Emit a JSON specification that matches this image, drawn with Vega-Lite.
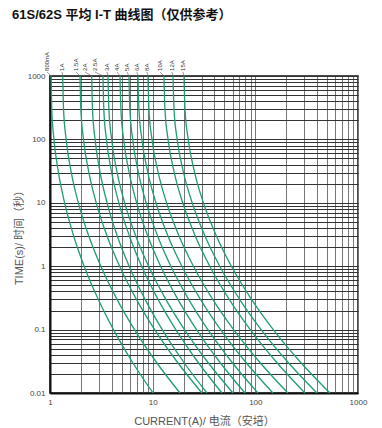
{
  "$schema": "https://vega.github.io/schema/vega-lite/v6.json",
  "width": 308,
  "height": 317,
  "autosize": "none",
  "padding": {"left": 50, "top": 76, "right": 24, "bottom": 35},
  "background": "white",
  "title": {"text": "61S/62S 平均 I-T 曲线图（仅供参考）", "anchor": "start", "frame": "group", "dx": -38, "offset": 30, "fontSize": 13, "fontWeight": "bold", "color": "#111", "font": "Liberation Sans, Noto Sans CJK SC"},
  "config": {"view": {"stroke": "#111", "strokeWidth": 1.5}, "font": "Liberation Sans, Noto Sans CJK SC"},
  "datasets": {
    "curves": [
      {"c":"800mA","t":1000,"i":1.023},{"c":"800mA","t":300,"i":1.040},{"c":"800mA","t":100,"i":1.093},{"c":"800mA","t":30,"i":1.209},{"c":"800mA","t":10,"i":1.388},{"c":"800mA","t":3,"i":1.700},{"c":"800mA","t":1,"i":2.152},{"c":"800mA","t":0.3,"i":2.949},{"c":"800mA","t":0.1,"i":4.148},{"c":"800mA","t":0.03,"i":6.405},{"c":"800mA","t":0.01,"i":10.07},
      {"c":"1A","t":1000,"i":1.330},{"c":"1A","t":300,"i":1.355},{"c":"1A","t":100,"i":1.436},{"c":"1A","t":30,"i":1.613},{"c":"1A","t":10,"i":1.888},{"c":"1A","t":3,"i":2.386},{"c":"1A","t":1,"i":3.128},{"c":"1A","t":0.3,"i":4.494},{"c":"1A","t":0.1,"i":6.653},{"c":"1A","t":0.03,"i":10.96},{"c":"1A","t":0.01,"i":18.45},
      {"c":"1.5A","t":1000,"i":1.959},{"c":"1.5A","t":300,"i":1.997},{"c":"1.5A","t":100,"i":2.120},{"c":"1.5A","t":30,"i":2.393},{"c":"1.5A","t":10,"i":2.819},{"c":"1.5A","t":3,"i":3.596},{"c":"1.5A","t":1,"i":4.766},{"c":"1.5A","t":0.3,"i":6.950},{"c":"1.5A","t":0.1,"i":10.45},{"c":"1.5A","t":0.03,"i":17.57},{"c":"1.5A","t":0.01,"i":30.20},
      {"c":"2A","t":1000,"i":2.547},{"c":"2A","t":300,"i":2.593},{"c":"2A","t":100,"i":2.746},{"c":"2A","t":30,"i":3.077},{"c":"2A","t":10,"i":3.594},{"c":"2A","t":3,"i":4.523},{"c":"2A","t":1,"i":5.902},{"c":"2A","t":0.3,"i":8.431},{"c":"2A","t":0.1,"i":12.40},{"c":"2A","t":0.03,"i":20.26},{"c":"2A","t":0.01,"i":33.81},
      {"c":"2.5A","t":1000,"i":3.281},{"c":"2.5A","t":300,"i":3.343},{"c":"2.5A","t":100,"i":3.545},{"c":"2.5A","t":30,"i":3.989},{"c":"2.5A","t":10,"i":4.682},{"c":"2.5A","t":3,"i":5.934},{"c":"2.5A","t":1,"i":7.809},{"c":"2.5A","t":0.3,"i":11.28},{"c":"2.5A","t":0.1,"i":16.80},{"c":"2.5A","t":0.03,"i":27.90},{"c":"2.5A","t":0.01,"i":47.32},
      {"c":"3A","t":1000,"i":3.673},{"c":"3A","t":300,"i":3.746},{"c":"3A","t":100,"i":3.984},{"c":"3A","t":30,"i":4.508},{"c":"3A","t":10,"i":5.335},{"c":"3A","t":3,"i":6.842},{"c":"3A","t":1,"i":9.134},{"c":"3A","t":0.3,"i":13.44},{"c":"3A","t":0.1,"i":20.41},{"c":"3A","t":0.03,"i":34.76},{"c":"3A","t":0.01,"i":60.53},
      {"c":"4A","t":1000,"i":4.808},{"c":"4A","t":300,"i":4.903},{"c":"4A","t":100,"i":5.215},{"c":"4A","t":30,"i":5.902},{"c":"4A","t":10,"i":6.984},{"c":"4A","t":3,"i":8.958},{"c":"4A","t":1,"i":11.96},{"c":"4A","t":0.3,"i":17.60},{"c":"4A","t":0.1,"i":26.73},{"c":"4A","t":0.03,"i":45.51},{"c":"4A","t":0.01,"i":79.25},
      {"c":"5A","t":1000,"i":5.875},{"c":"5A","t":300,"i":5.995},{"c":"5A","t":100,"i":6.388},{"c":"5A","t":30,"i":7.260},{"c":"5A","t":10,"i":8.636},{"c":"5A","t":3,"i":11.17},{"c":"5A","t":1,"i":15.04},{"c":"5A","t":0.3,"i":22.41},{"c":"5A","t":0.1,"i":34.50},{"c":"5A","t":0.03,"i":59.76},{"c":"5A","t":0.01,"i":105.9},
      {"c":"6A","t":1000,"i":7.194},{"c":"6A","t":300,"i":7.348},{"c":"6A","t":100,"i":7.855},{"c":"6A","t":30,"i":8.977},{"c":"6A","t":10,"i":10.76},{"c":"6A","t":3,"i":14.09},{"c":"6A","t":1,"i":19.24},{"c":"6A","t":0.3,"i":29.20},{"c":"6A","t":0.1,"i":45.84},{"c":"6A","t":0.03,"i":81.45},{"c":"6A","t":0.01,"i":148.3},
      {"c":"8A","t":1000,"i":8.995},{"c":"8A","t":300,"i":9.194},{"c":"8A","t":100,"i":9.851},{"c":"8A","t":30,"i":11.32},{"c":"8A","t":10,"i":13.66},{"c":"8A","t":3,"i":18.06},{"c":"8A","t":1,"i":24.95},{"c":"8A","t":0.3,"i":38.46},{"c":"8A","t":0.1,"i":61.42},{"c":"8A","t":0.03,"i":111.5},{"c":"8A","t":0.01,"i":207.5},
      {"c":"10A","t":1000,"i":12.88},{"c":"10A","t":300,"i":13.17},{"c":"10A","t":100,"i":14.12},{"c":"10A","t":30,"i":16.23},{"c":"10A","t":10,"i":19.63},{"c":"10A","t":3,"i":25.99},{"c":"10A","t":1,"i":35.99},{"c":"10A","t":0.3,"i":55.67},{"c":"10A","t":0.1,"i":89.20},{"c":"10A","t":0.03,"i":162.6},{"c":"10A","t":0.01,"i":304.1},
      {"c":"12A","t":1000,"i":15.78},{"c":"12A","t":300,"i":16.14},{"c":"12A","t":100,"i":17.32},{"c":"12A","t":30,"i":19.98},{"c":"12A","t":10,"i":24.25},{"c":"12A","t":3,"i":32.31},{"c":"12A","t":1,"i":45.06},{"c":"12A","t":0.3,"i":70.31},{"c":"12A","t":0.1,"i":113.8},{"c":"12A","t":0.03,"i":210.1},{"c":"12A","t":0.01,"i":398.1},
      {"c":"15A","t":1000,"i":20.18},{"c":"15A","t":300,"i":20.65},{"c":"15A","t":100,"i":22.19},{"c":"15A","t":30,"i":25.64},{"c":"15A","t":10,"i":31.21},{"c":"15A","t":3,"i":41.73},{"c":"15A","t":1,"i":58.48},{"c":"15A","t":0.3,"i":91.80},{"c":"15A","t":0.1,"i":149.5},{"c":"15A","t":0.03,"i":278.3},{"c":"15A","t":0.01,"i":532.1}
    ],
    "labels": [
      {"label":"800mA","lx":0.935,"i":1.023,"ly":1160,"ty":1000},
      {"label":"1A","lx":1.309,"i":1.330,"ly":1160,"ty":1000},
      {"label":"1.5A","lx":1.79,"i":1.959,"ly":1160,"ty":1000},
      {"label":"2A","lx":2.19,"i":2.547,"ly":1160,"ty":1000},
      {"label":"2.5A","lx":2.74,"i":3.281,"ly":1160,"ty":1000},
      {"label":"3A","lx":3.59,"i":3.673,"ly":1160,"ty":1000},
      {"label":"4A","lx":4.49,"i":4.808,"ly":1160,"ty":1000},
      {"label":"5A","lx":5.62,"i":5.875,"ly":1160,"ty":1000},
      {"label":"6A","lx":7.03,"i":7.194,"ly":1160,"ty":1000},
      {"label":"8A","lx":8.80,"i":8.995,"ly":1160,"ty":1000},
      {"label":"10A","lx":11.78,"i":12.88,"ly":1160,"ty":1000},
      {"label":"12A","lx":15.4,"i":15.78,"ly":1160,"ty":1000},
      {"label":"15A","lx":19.7,"i":20.18,"ly":1160,"ty":1000}
    ]
  },
  "layer": [
    {
      "data": {"name": "curves"},
      "mark": {"type": "line", "color": "#1f9e6f", "strokeWidth": 1.3, "interpolate": "monotone"},
      "encoding": {
        "x": {"field": "i", "type": "quantitative",
          "scale": {"type": "log", "domain": [1, 1000], "nice": false},
          "axis": {"values": [1,2,3,4,5,6,7,8,9,10,20,30,40,50,60,70,80,90,100,200,300,400,500,600,700,800,900,1000],
            "labelExpr": "indexof([1,10,100,1000], datum.value) >= 0 ? datum.label : ''",
            "format": "~g", "labelOverlap": false, "labelFlush": false,
            "grid": true, "gridColor": "#777", "gridWidth": 1, "gridOpacity": 1,
            "ticks": false, "domainColor": "#111", "domainWidth": 2,
            "labelFontSize": 8, "labelColor": "#444", "labelPadding": 5,
            "title": "CURRENT(A)/ 电流（安培）", "titleFontSize": 11, "titleFontWeight": "normal", "titleColor": "#555", "titlePadding": 9}},
        "y": {"field": "t", "type": "quantitative",
          "scale": {"type": "log", "domain": [0.01, 1000], "nice": false},
          "axis": {"values": [0.01,0.02,0.03,0.04,0.05,0.06,0.07,0.08,0.09,0.1,0.2,0.3,0.4,0.5,0.6,0.7,0.8,0.9,1,2,3,4,5,6,7,8,9,10,20,30,40,50,60,70,80,90,100,200,300,400,500,600,700,800,900,1000],
            "labelExpr": "indexof([0.01,0.1,1,10,100,1000], datum.value) >= 0 ? datum.label : ''",
            "format": "~g", "labelOverlap": false, "labelFlush": false,
            "grid": true, "gridColor": "#333", "gridWidth": 1, "gridOpacity": 1,
            "ticks": false, "domainColor": "#111", "domainWidth": 2,
            "labelFontSize": 8, "labelColor": "#444", "labelPadding": 5,
            "title": "TIME(s)/ 时间（秒）", "titleFontSize": 11, "titleFontWeight": "normal", "titleColor": "#555", "titlePadding": 3}},
        "detail": {"field": "c"}
      }
    },
    {
      "data": {"name": "labels"},
      "mark": {"type": "rule", "color": "#555", "strokeWidth": 0.6},
      "encoding": {
        "x": {"field": "lx", "type": "quantitative"},
        "x2": {"field": "i"},
        "y": {"field": "ly", "type": "quantitative"},
        "y2": {"field": "ty"}
      }
    },
    {
      "data": {"name": "labels"},
      "mark": {"type": "text", "angle": 270, "align": "left", "baseline": "middle", "dx": 1, "fontSize": 6, "color": "#333"},
      "encoding": {
        "x": {"field": "lx", "type": "quantitative"},
        "y": {"field": "ly", "type": "quantitative"},
        "text": {"field": "label"}
      }
    }
  ]
}
